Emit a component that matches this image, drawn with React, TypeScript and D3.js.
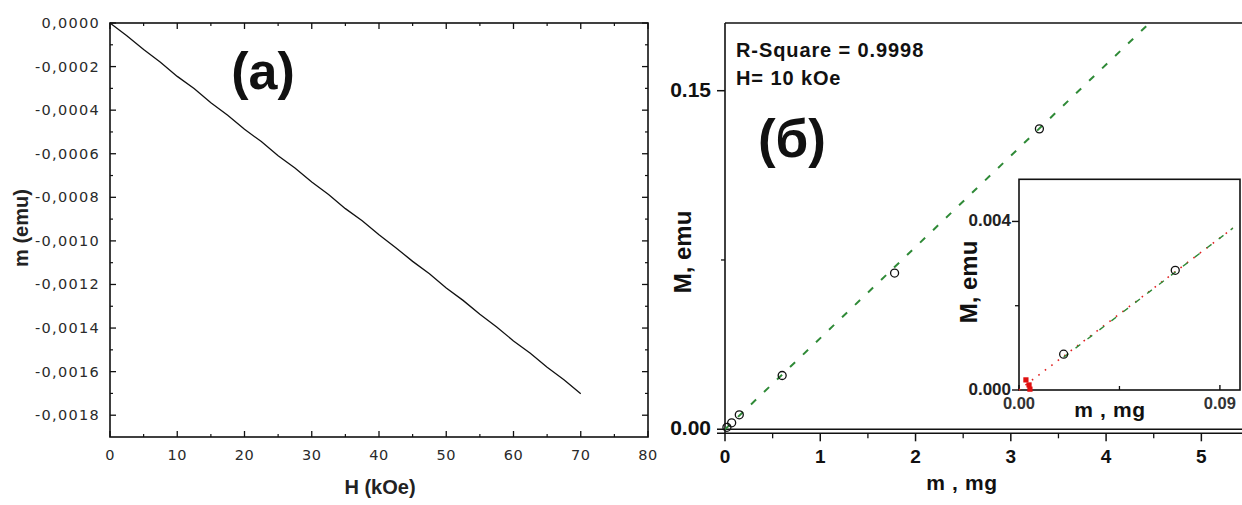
import React from "react";
import * as d3 from "d3";

// (a) magnetic moment of the sample holder vs field
const fieldKOe = [0, 2.5, 5, 7.5, 10, 12.5, 15, 17.5, 20, 22.5, 25, 27.5, 30, 32.5, 35, 37.5, 40, 42.5, 45, 47.5, 50, 52.5, 55, 57.5, 60, 62.5, 65, 67.5, 70];
const momentEmu = [0, -0.000058, -0.000122, -0.00018, -0.000245, -0.000301, -0.000366, -0.000423, -0.000488, -0.000544, -0.000609, -0.000665, -0.00073, -0.000787, -0.000852, -0.000908, -0.000972, -0.001031, -0.001094, -0.001151, -0.001216, -0.001273, -0.001337, -0.001395, -0.001459, -0.001516, -0.00158, -0.001637, -0.001702];
const aXTicks = [0, 10, 20, 30, 40, 50, 60, 70, 80];
const aYTicks = [0, -0.0002, -0.0004, -0.0006, -0.0008, -0.001, -0.0012, -0.0014, -0.0016, -0.0018];

// (б) magnetization vs sample mass at H = 10 kOe
const massMg = [0.02, 0.07, 0.15, 0.6, 1.78, 3.3];
const magEmu = [0.00085, 0.00284, 0.0064, 0.0238, 0.0692, 0.1331];
const smallMassMg = [0.0031, 0.0045, 0.0049];
const smallMagEmu = [0.00024, 0.00012, 0.00002];
const fitSlope = 0.0404;
const fitIntercept = -0.00003;
const bXTicks = [0, 1, 2, 3, 4, 5];
const bYTicks = [0, 0.15];
const insetXTicks = [0, 0.09];
const insetYTicks = [0, 0.004];
const rSquare = "0.9998";

const SANS = "'Liberation Sans', Arial, sans-serif";
const DEJAVU = "'DejaVu Sans', sans-serif";

const fmtComma = d3.formatLocale({ decimal: ",", thousands: " ", grouping: [3], currency: ["", ""], minus: "-" }).format(".4f");

export default function App() {
  // panel (a)
  const xA = d3.scaleLinear().domain([0, 80]).range([110, 648]);
  const yA = d3.scaleLinear().domain([-0.0019, 0]).range([437, 23]);
  const lineA = d3.line<number>().x((_, i) => xA(fieldKOe[i])).y((d) => yA(d));
  const xAMinor = d3.range(5, 80, 10);
  const yAMinor = d3.range(-0.0001, -0.0019, -0.0002);

  // panel (б)
  const xB = d3.scaleLinear().domain([0, 5.5]).range([725, 1249]);
  const yB = d3.scaleLinear().domain([-0.0018, 0.18]).range([433.3, 23]);
  const xBMinor = d3.range(0.5, 5.5, 1);
  const fitB = d3.line<number>().x((m) => xB(m)).y((m) => yB(fitSlope * m + fitIntercept));

  // inset
  const xI = d3.scaleLinear().domain([0, 0.099]).range([1019, 1240]);
  const yI = d3.scaleLinear().domain([0, 0.005]).range([390, 179.3]);
  const fitI = d3.line<number>().x((m) => xI(m)).y((m) => yI(Math.max(0, fitSlope * m + fitIntercept)));

  const green = "#2f8a37";

  return (
    <div style={{ position: "absolute", left: 0, top: 0 }}>
      <svg width={1242} height={505} style={{ display: "block", background: "#fff" }}>
        <defs>
          <clipPath id="clipB">
            <rect x={xB(0)} y={yB.range()[1]} width={1249 - xB(0)} height={yB.range()[0] - yB.range()[1]} />
          </clipPath>
        </defs>

        {/* ---------- panel (a) ---------- */}
        <g>
          {aXTicks.map((t) => (
            <g key={"ax" + t}>
              <line x1={xA(t)} x2={xA(t)} y1={yA.range()[0]} y2={yA.range()[0] - 6} stroke="#111" strokeWidth={1.3} />
              <line x1={xA(t)} x2={xA(t)} y1={yA.range()[1]} y2={yA.range()[1] + 6} stroke="#111" strokeWidth={1.3} />
              <text x={xA(t)} y={460} textAnchor="middle" fontFamily={DEJAVU} fontSize={14.5} letterSpacing={0.5} fill="#2a2a2a">{t}</text>
            </g>
          ))}
          {xAMinor.map((t) => (
            <g key={"axm" + t}>
              <line x1={xA(t)} x2={xA(t)} y1={yA.range()[0]} y2={yA.range()[0] - 3} stroke="#111" strokeWidth={1.2} />
              <line x1={xA(t)} x2={xA(t)} y1={yA.range()[1]} y2={yA.range()[1] + 3} stroke="#111" strokeWidth={1.2} />
            </g>
          ))}
          {aYTicks.map((t) => (
            <g key={"ay" + t}>
              <line x1={xA.range()[0]} x2={xA.range()[0] + 6} y1={yA(t)} y2={yA(t)} stroke="#111" strokeWidth={1.3} />
              <line x1={xA.range()[1]} x2={xA.range()[1] - 6} y1={yA(t)} y2={yA(t)} stroke="#111" strokeWidth={1.3} />
              <text x={100} y={yA(t) + 5} textAnchor="end" fontFamily={DEJAVU} fontSize={14.5} letterSpacing={1.3} fill="#2a2a2a">{fmtComma(t)}</text>
            </g>
          ))}
          {yAMinor.map((t) => (
            <g key={"aym" + t}>
              <line x1={xA.range()[0]} x2={xA.range()[0] + 3} y1={yA(t)} y2={yA(t)} stroke="#111" strokeWidth={1.2} />
              <line x1={xA.range()[1]} x2={xA.range()[1] - 3} y1={yA(t)} y2={yA(t)} stroke="#111" strokeWidth={1.2} />
            </g>
          ))}
          <rect x={xA.range()[0]} y={yA.range()[1]} width={xA.range()[1] - xA.range()[0]} height={yA.range()[0] - yA.range()[1]} fill="none" stroke="#111" strokeWidth={1.6} />
          <path d={lineA(momentEmu) || ""} fill="none" stroke="#111" strokeWidth={1.3} />
          <text x={263} y={89} textAnchor="middle" fontFamily={SANS} fontWeight="bold" fontSize={52} fill="#111">(a)</text>
          <text x={380} y={494} textAnchor="middle" fontFamily={SANS} fontWeight="bold" fontSize={20} fill="#222">H (kOe)</text>
          <text transform="translate(28,228) rotate(-90)" textAnchor="middle" fontFamily={SANS} fontWeight="bold" fontSize={20} fill="#222">m (emu)</text>
        </g>

        {/* ---------- panel (б) ---------- */}
        <g>
          <line x1={xB(0)} x2={1242} y1={yB.range()[1]} y2={yB.range()[1]} stroke="#111" strokeWidth={1.6} />
          <line x1={xB(0)} x2={xB(0)} y1={yB.range()[1]} y2={yB.range()[0]} stroke="#111" strokeWidth={1.6} />
          <line x1={xB(0) - 8} x2={1242} y1={yB.range()[0]} y2={yB.range()[0]} stroke="#111" strokeWidth={1.6} />
          <line x1={xB(0)} x2={1242} y1={yB(0)} y2={yB(0)} stroke="#111" strokeWidth={1.4} />
          {bXTicks.map((t) => (
            <g key={"bx" + t}>
              <line x1={xB(t)} x2={xB(t)} y1={yB.range()[0]} y2={yB.range()[0] + 8} stroke="#111" strokeWidth={1.5} />
              <text x={xB(t)} y={463} textAnchor="middle" fontFamily={SANS} fontWeight="bold" fontSize={19} fill="#111">{t}</text>
            </g>
          ))}
          {xBMinor.map((t) => (
            <line key={"bxm" + t} x1={xB(t)} x2={xB(t)} y1={yB.range()[0]} y2={yB.range()[0] + 5} stroke="#111" strokeWidth={1.3} />
          ))}
          {bYTicks.map((t) => (
            <g key={"by" + t}>
              <line x1={xB(0) - 8} x2={xB(0)} y1={yB(t)} y2={yB(t)} stroke="#111" strokeWidth={1.5} />
              <text x={711} y={yB(t) + 6} textAnchor="end" fontFamily={SANS} fontWeight="bold" fontSize={21} fill="#111">{d3.format(".2f")(t)}</text>
            </g>
          ))}
          <line x1={xB(0) - 4} x2={xB(0)} y1={yB(0.075)} y2={yB(0.075)} stroke="#111" strokeWidth={1.3} />

          <path d={fitB([0, 5.5]) || ""} clipPath="url(#clipB)" fill="none" stroke={green} strokeWidth={2} strokeDasharray="7,11" />
          {massMg.map((m, i) => (
            <circle key={"pb" + i} cx={xB(m)} cy={yB(magEmu[i])} r={4} fill="none" stroke="#111" strokeWidth={1.3} />
          ))}

          <text x={736} y={57} fontFamily={SANS} fontWeight="bold" fontSize={20} letterSpacing={0.9} fill="#111">{`R-Square = ${rSquare}`}</text>
          <text x={736} y={85} fontFamily={SANS} fontWeight="bold" fontSize={20} letterSpacing={0.9} fill="#111">H= 10 kOe</text>
          <text x={792} y={157} textAnchor="middle" fontFamily={SANS} fontWeight="bold" fontSize={53} fill="#111">(б)</text>
          <text x={962} y={490} textAnchor="middle" fontFamily={SANS} fontWeight="bold" fontSize={21} letterSpacing={0.6} fill="#111">m , mg</text>
          <text transform="translate(691,252) rotate(-90)" textAnchor="middle" fontFamily={SANS} fontWeight="bold" fontSize={24} fill="#111">M, emu</text>
        </g>

        {/* ---------- inset ---------- */}
        <g>
          <rect x={xI(0)} y={yI.range()[1]} width={1240 - xI(0)} height={yI.range()[0] - yI.range()[1]} fill="#fff" stroke="#111" strokeWidth={1.6} />
          {insetYTicks.map((t) => (
            <g key={"iy" + t}>
              <line x1={xI(0) - 7} x2={xI(0)} y1={yI(t)} y2={yI(t)} stroke="#111" strokeWidth={1.4} />
              <text x={1011} y={yI(t) + 5} textAnchor="end" fontFamily={SANS} fontWeight="bold" fontSize={17} fill="#222">{d3.format(".3f")(t)}</text>
            </g>
          ))}
          <line x1={xI(0) - 4} x2={xI(0)} y1={yI(0.002)} y2={yI(0.002)} stroke="#111" strokeWidth={1.3} />
          {insetXTicks.map((t) => (
            <g key={"ix" + t}>
              <line x1={xI(t)} x2={xI(t)} y1={yI(0)} y2={yI(0) - 5} stroke="#111" strokeWidth={1.4} />
              <text x={xI(t)} y={409} textAnchor="middle" fontFamily={SANS} fontWeight="bold" fontSize={16.5} fill="#333">{d3.format(".2f")(t)}</text>
            </g>
          ))}
          <line x1={xI(0.045)} x2={xI(0.045)} y1={yI(0)} y2={yI(0) - 4} stroke="#111" strokeWidth={1.3} />

          <path d={fitI([0, 0.0958]) || ""} fill="none" stroke="#e02020" strokeWidth={1.6} strokeDasharray="1.6,6.5" />
          <path d={fitI([0.02, 0.0958]) || ""} fill="none" stroke={green} strokeWidth={1.4} strokeDasharray="6,9" />
          {smallMassMg.map((m, i) => (
            <rect key={"sq" + i} x={xI(m) - 2.6} y={yI(smallMagEmu[i]) - 2.6} width={5.2} height={5.2} fill="#e01010" />
          ))}
          {massMg.filter((m) => m <= 0.099).map((m, i) => (
            <circle key={"pi" + i} cx={xI(m)} cy={yI(magEmu[i])} r={4} fill="none" stroke="#111" strokeWidth={1.3} />
          ))}
          <text x={1110} y={417} textAnchor="middle" fontFamily={SANS} fontWeight="bold" fontSize={21} letterSpacing={0.6} fill="#111">m , mg</text>
          <text transform="translate(977,282) rotate(-90)" textAnchor="middle" fontFamily={SANS} fontWeight="bold" fontSize={24} fill="#111">M, emu</text>
        </g>
      </svg>
    </div>
  );
}
